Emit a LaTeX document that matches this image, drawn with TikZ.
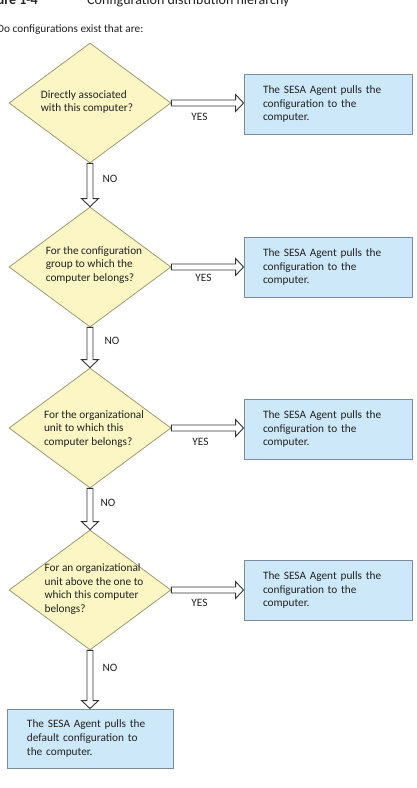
\documentclass[tikz,border=0pt]{standalone}
\usepackage{fontspec}
\setmainfont{Carlito}
\usetikzlibrary{shapes.geometric,calc}
\definecolor{dfill}{HTML}{FBF6C4}
\definecolor{ddraw}{HTML}{9E9A72}
\definecolor{bfill}{HTML}{CDE8F9}
\definecolor{bdraw}{HTML}{7D8C9C}
\definecolor{txt}{HTML}{222222}
\tikzset{
  dec/.style={diamond, draw=ddraw, fill=dfill, line width=0.8pt, minimum width=162pt, minimum height=120pt, inner sep=0pt, aspect=1.35},
  dtext/.style={align=left, font=\fontsize{11.3}{13.8}\selectfont, text=txt, inner sep=0pt},
  res/.style={rectangle, draw=bdraw, fill=bfill, line width=0.9pt, minimum width=168pt, minimum height=60pt, inner sep=0pt, align=left, text width=130pt, font=\fontsize{11.3}{13.8}\selectfont, text=txt},
  lbl/.style={font=\fontsize{11.3}{13}\selectfont, text=txt, inner sep=0pt},
  barrow/.style={draw=black!80, fill=white, line width=0.9pt, line join=miter}
}
\newcommand\myHarrow[2]{%
  \draw[barrow] ($(#1)+(0,-3)$) -- ($(#2)+(-8,-3)$) -- ($(#2)+(-8,-8.5)$) -- (#2) -- ($(#2)+(-8,8.5)$) -- ($(#2)+(-8,3)$) -- ($(#1)+(0,3)$) -- cycle;}
\newcommand\myVarrow[2]{%
  \draw[barrow] ($(#1)+(-3,0)$) -- ($(#2)+(-3,-8)$) -- ($(#2)+(-8.5,-8)$) -- (#2) -- ($(#2)+(8.5,-8)$) -- ($(#2)+(3,-8)$) -- ($(#1)+(3,0)$) -- cycle;}
\begin{document}
\begin{tikzpicture}[x=1pt,y=-1pt]
\useasboundingbox (0,0) rectangle (416,788);
\clip (0,0) rectangle (416,788);
\fill[white] (0,0) rectangle (416,788);
% header
\node[lbl, anchor=base east, font=\fontsize{14}{16}\selectfont\bfseries] (fig) at (38,4) {Figure 1-4};
\node[lbl, anchor=base west, font=\fontsize{14}{16}\selectfont] (title) at (87,4) {Configuration distribution hierarchy};
\node[lbl, anchor=base west] (intro) at (-3,32) {Do configurations exist that are:};
% diamonds
\node[dec] (d1) at (90,103) {};
\node[dec] (d2) at (90,267) {};
\node[dec] (d3) at (90,428) {};
\node[dec] (d4) at (90,590) {};
\node[dtext] (t1) at (87,102) {Directly associated\\with this computer?};
\node[dtext] (t2) at (94,265) {For the configuration\\group to which the\\computer belongs?};
\node[dtext] (t3) at (94,429) {For the organizational\\unit to which this\\computer belongs?};
\node[dtext] (t4) at (94,589) {For an organizational\\unit above the one to\\which this computer\\belongs?};
% boxes
\node[res] (b1) at (328,104) {The SESA Agent pulls the\\configuration to the\\computer.};
\node[res] (b2) at (328,267) {The SESA Agent pulls the\\configuration to the\\computer.};
\node[res] (b3) at (328,429) {The SESA Agent pulls the\\configuration to the\\computer.};
\node[res] (b4) at (328,590) {The SESA Agent pulls the\\configuration to the\\computer.};
\node[res, minimum width=166pt, minimum height=59pt, text width=126pt] (b5) at (90,738.5) {The SESA Agent pulls the\\default configuration to\\the computer.};
% tips
\coordinate (h1) at (b1.west |- d1.east);
\coordinate (h2) at (b2.west |- d2.east);
\coordinate (h3) at (b3.west |- d3.east);
\coordinate (h4) at (b4.west |- d4.east);
\myHarrow{d1.east}{h1}
\myHarrow{d2.east}{h2}
\myHarrow{d3.east}{h3}
\myHarrow{d4.east}{h4}
\myVarrow{d1.south}{d2.north}
\myVarrow{d2.south}{d3.north}
\myVarrow{d3.south}{d4.north}
\myVarrow{d4.south}{b5.north}
% labels
\node[lbl] (y1) at ($(d1.east)+(28,14)$) {YES};
\node[lbl] (y2) at ($(d2.east)+(32,11)$) {YES};
\node[lbl] (y3) at ($(d3.east)+(29,14)$) {YES};
\node[lbl] (y4) at ($(d4.east)+(28,13)$) {YES};
\node[lbl] (n1) at ($(d1.south)+(20,15)$) {NO};
\node[lbl] (n2) at ($(d2.south)+(22,13)$) {NO};
\node[lbl] (n3) at ($(d3.south)+(18,14)$) {NO};
\node[lbl] (n4) at ($(d4.south)+(20,17)$) {NO};
\end{tikzpicture}
\end{document}
